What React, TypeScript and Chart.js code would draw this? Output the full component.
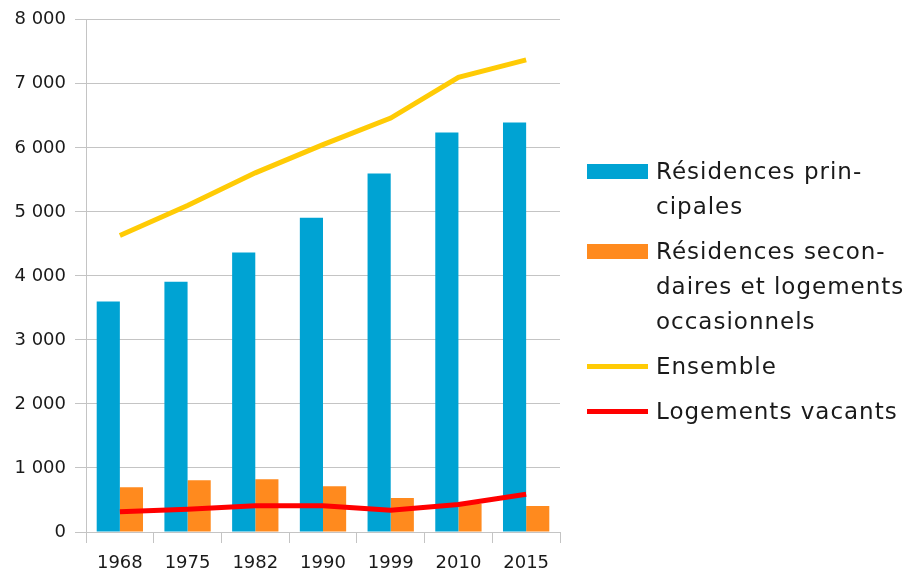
import React, { useEffect, useRef } from "react";
import { Chart, registerables } from "chart.js";
Chart.register(...registerables);

const years = ["1968", "1975", "1982", "1990", "1999", "2010", "2015"];
const principales = [3600, 3910, 4365, 4910, 5600, 6240, 6395];
const secondaires = [700, 810, 825, 715, 530, 440, 405];
const ensemble = [4630, 5100, 5610, 6050, 6465, 7100, 7375];
const vacants = [315, 355, 410, 410, 340, 430, 590];

const seriesNames = [
  "Résidences principales",
  "Résidences secondaires et logements occasionnels",
  "Ensemble",
  "Logements vacants",
];
const legendLines = [
  ["Résidences prin-", "cipales"],
  ["Résidences secon-", "daires et logements", "occasionnels"],
  ["Ensemble"],
  ["Logements vacants"],
];
const seriesKinds = ["bar", "bar", "line", "line"];
const seriesColors = ["#00A3D3", "#FF8A1E", "#FFCB05", "#FF0000"];
const yMin = 0;
const yMax = 8000;
const yStep = 1000;

const GRID = "#C4C4C4";
const FONT = "'DejaVu Sans', sans-serif";

function fmt(v: number) {
  return String(v).replace(/\B(?=(\d{3})+(?!\d))/g, "\u00a0");
}

function Legend() {
  return (
    <div
      style={{
        position: "absolute",
        left: 587,
        top: 154,
        display: "flex",
        flexDirection: "column",
        gap: 10,
        fontFamily: FONT,
        fontSize: 23,
        letterSpacing: 1,
        color: "#1a1a1a",
      }}
    >
      {seriesNames.map((name, i) => (
        <div key={name} style={{ display: "flex", alignItems: "flex-start" }}>
          <div
            style={{
              width: 61,
              height: 35,
              marginRight: 8,
              display: "flex",
              alignItems: "center",
            }}
          >
            <div
              style={{
                width: 61,
                height: seriesKinds[i] === "bar" ? 15 : 5,
                background: seriesColors[i],
              }}
            />
          </div>
          <div style={{ lineHeight: "35px", whiteSpace: "nowrap" }}>
            {legendLines[i].map((l, j) => (
              <div key={j}>{l}</div>
            ))}
          </div>
        </div>
      ))}
    </div>
  );
}

export default function App() {
  const ref = useRef<HTMLCanvasElement | null>(null);
  useEffect(() => {
    if (!ref.current) return;
    const values = [principales, secondaires, ensemble, vacants];
    const chart = new Chart(ref.current, {
      type: "bar",
      data: {
        labels: years,
        datasets: seriesNames.map((name, i) =>
          seriesKinds[i] === "bar"
            ? {
                type: "bar" as const,
                label: name,
                data: values[i],
                backgroundColor: seriesColors[i],
                borderWidth: 0,
                categoryPercentage: 0.684,
                barPercentage: 1,
                order: 2,
              }
            : {
                type: "line" as const,
                label: name,
                data: values[i],
                borderColor: seriesColors[i],
                backgroundColor: seriesColors[i],
                borderWidth: 5,
                pointRadius: 0,
                tension: 0,
                fill: false,
                borderCapStyle: "butt" as const,
                order: 1,
              }
        ) as any,
      },
      options: {
        responsive: false,
        animation: false,
        layout: { padding: { top: 19, right: 347, left: 0, bottom: 0 } },
        plugins: {
          legend: { display: false },
          tooltip: { enabled: false },
        },
        scales: {
          x: {
            grid: {
              offset: true,
              drawOnChartArea: true,
              color: (ctx: any) => (ctx.index === years.length ? GRID : "rgba(0,0,0,0)"),
              tickColor: GRID,
              tickLength: 11,
              lineWidth: 1,
            },
            border: { color: GRID, width: 1 },
            ticks: {
              color: "#1a1a1a",
              font: { family: FONT, size: 18 },
              padding: 10,
              maxRotation: 0,
            },
            afterFit: (s: any) => {
              s.height = 46;
            },
          },
          y: {
            min: yMin,
            max: yMax,
            grid: {
              color: GRID,
              tickColor: GRID,
              tickLength: 11,
              lineWidth: 1,
            },
            border: { color: GRID, width: 1 },
            ticks: {
              stepSize: yStep,
              color: "#1a1a1a",
              font: { family: FONT, size: 18 },
              padding: 9,
              callback: (v: any) => fmt(Number(v)),
            },
            afterFit: (s: any) => {
              s.width = 86;
            },
          },
        },
      } as any,
    });
    return () => chart.destroy();
  }, []);

  return (
    <div style={{ position: "fixed", left: 0, top: 0, width: 907, height: 578, background: "#fff" }}>
      <canvas ref={ref} width={907} height={578} style={{ position: "absolute", left: 0, top: 0 }} />
      <Legend />
    </div>
  );
}
